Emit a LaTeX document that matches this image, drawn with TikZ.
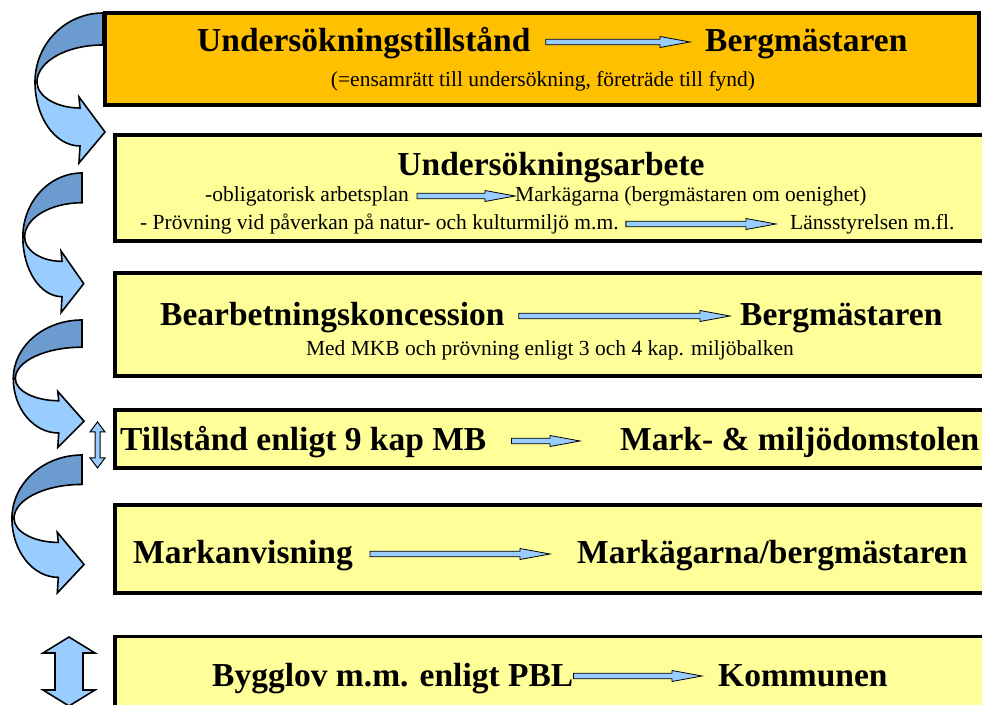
\documentclass[tikz,border=0pt]{standalone}
\usepackage{fontspec}
\setmainfont{Liberation Serif}
\usepackage{tikz}
\usetikzlibrary{calc}

\definecolor{boxorange}{HTML}{FFC000}
\definecolor{boxyellow}{HTML}{FFFF99}
\definecolor{arrowlight}{HTML}{99CCFF}
\definecolor{arrowdark}{HTML}{6B9BCF}

\newcommand{\hdsize}{\fontsize{33.5}{36}\selectfont\bfseries}
\newcommand{\smsize}{\fontsize{21.5}{24}\selectfont}

\tikzset{
  box/.style={draw=black, line width=3.5pt, anchor=south west, inner sep=0pt},
  head/.style={font=\hdsize, inner sep=0pt, text height=24pt, text depth=4pt, anchor=base west},
  small/.style={font=\smsize, inner sep=0pt, text height=16pt, text depth=4pt},
  fatarrow/.style={draw=black, fill=arrowlight, line width=0.8pt,
    to path={let \p1=(\tikztostart), \p2=(\tikztotarget) in
      (\x1,\y1+2.8pt) -- (\x2-30pt,\y1+2.8pt) -- (\x2-30pt,\y1+5.5pt) -- (\x2,\y1)
      -- (\x2-30pt,\y1-5.5pt) -- (\x2-30pt,\y1-2.8pt) -- (\x1,\y1-2.8pt) -- cycle}},
  bend arrow/.pic={
    % front (light) half
    \draw[fill=arrowlight, line width=1.6pt, line join=miter]
      (-68,-69) arc[start angle=180, end angle=270, x radius=45, y radius=64]
      -- (-24,-150) -- (2,-119) -- (-24,-84) -- (-23,-95)
      arc[start angle=270, end angle=180, x radius=43, y radius=26] -- cycle;
    % back (dark) half
    \draw[fill=arrowdark, line width=1.6pt, line join=miter]
      (0,0) arc[start angle=90, end angle=180, x radius=68, y radius=69]
      -- (-66,-69) arc[start angle=180, end angle=90, x radius=66, y radius=37] -- cycle;
  }
}

\begin{document}
\begin{tikzpicture}[x=1pt, y=1pt]
  \useasboundingbox (0,0) rectangle (982,704);
  \clip (0,0) rectangle (982,704);

  % Boxes
  \node[box, fill=boxorange, minimum width=874pt, minimum height=92pt] (box1) at (103,597) {};
  \node[box, fill=boxyellow, minimum width=882pt, minimum height=106pt] (box2) at (113,461) {};
  \node[box, fill=boxyellow, minimum width=882pt, minimum height=103pt] (box3) at (113,326) {};
  \node[box, fill=boxyellow, minimum width=882pt, minimum height=58pt] (box4) at (113,234) {};
  \node[box, fill=boxyellow, minimum width=882pt, minimum height=88pt] (box5) at (113,109) {};
  \node[box, fill=boxyellow, minimum width=882pt, minimum height=86pt] (box6) at (113,-20) {};

  % Box 1
  \node[head] (t1a) at (197,652) {Undersökningstillstånd};
  \node[head] (t1b) at (705,652) {Bergmästaren};
  \draw[fatarrow] ([xshift=15pt]t1a.east) to ([xshift=-15pt]t1b.west);
  \node[small, anchor=base] (t1c) at (543,617) {(=ensamrätt till undersökning, företräde till fynd)};

  % Box 2
  \node[head, anchor=base] (t2a) at (551,528) {Undersökningsarbete};
  \node[small, anchor=base west] (t2b) at (205,502) {-obligatorisk arbetsplan};
  \node[small, anchor=base west] (t2c) at (515,502) {Markägarna (bergmästaren om oenighet)};
  \draw[fatarrow] ([xshift=8pt]t2b.east) to (t2c.west);
  \node[small, anchor=base west] (t2d) at (140,474) {- Prövning vid påverkan på natur- och kulturmiljö m.m.};
  \node[small, anchor=base west] (t2e) at (790,474) {Länsstyrelsen m.fl.};
  \draw[fatarrow] ([xshift=7pt]t2d.east) to ([xshift=-14pt]t2e.west);

  % Box 3
  \node[head] (t3a) at (160,378) {Bearbetningskoncession};
  \node[head] (t3b) at (740,378) {Bergmästaren};
  \draw[fatarrow] ([xshift=14pt]t3a.east) to ([xshift=-10pt]t3b.west);
  \node[small, anchor=base] (t3c) at (550,348) {Med MKB och prövning enligt 3 och 4 kap. miljöbalken};

  % Box 4
  \node[head] (t4a) at (120,253) {Tillstånd enligt 9 kap MB};
  \node[head] (t4b) at (620,253) {Mark- \& miljödomstolen};
  \draw[fatarrow] ([xshift=25pt]t4a.east) to ([xshift=-40pt]t4b.west);

  % Box 5
  \node[head] (t5a) at (133,140) {Markanvisning};
  \node[head] (t5b) at (577,140) {Markägarna/bergmästaren};
  \draw[fatarrow] ([xshift=17pt]t5a.east) to ([xshift=-27pt]t5b.west);

  % Box 6
  \node[head] (t6a) at (212,18) {Bygglov m.m. enligt PBL};
  \node[head] (t6b) at (718,18) {Kommunen};
  \draw[fatarrow] (t6a.east) to ([xshift=-16pt]t6b.west);

  % Curved arrows on the left
  \pic at (103,691) {bend arrow};
  \pic[xscale=0.87, yscale=0.93] at (82,531) {bend arrow};
  \pic[xscale=1.01, yscale=0.85] at (82,384) {bend arrow};
  \pic[xscale=1.03, yscale=0.92] at (82,249) {bend arrow};

  % Double arrows
  \draw[fill=arrowlight, line width=1pt]
    (97.5,282) -- (105,272) -- (100,272) -- (100,246) -- (105,246) -- (97.5,236)
    -- (90,246) -- (95,246) -- (95,272) -- (90,272) -- cycle;
  \draw[fill=arrowlight, line width=1.6pt]
    (69,67) -- (95,51) -- (83,51) -- (83,14) -- (95,14) -- (69,-2)
    -- (43,14) -- (55,14) -- (55,51) -- (43,51) -- cycle;
\end{tikzpicture}
\end{document}
